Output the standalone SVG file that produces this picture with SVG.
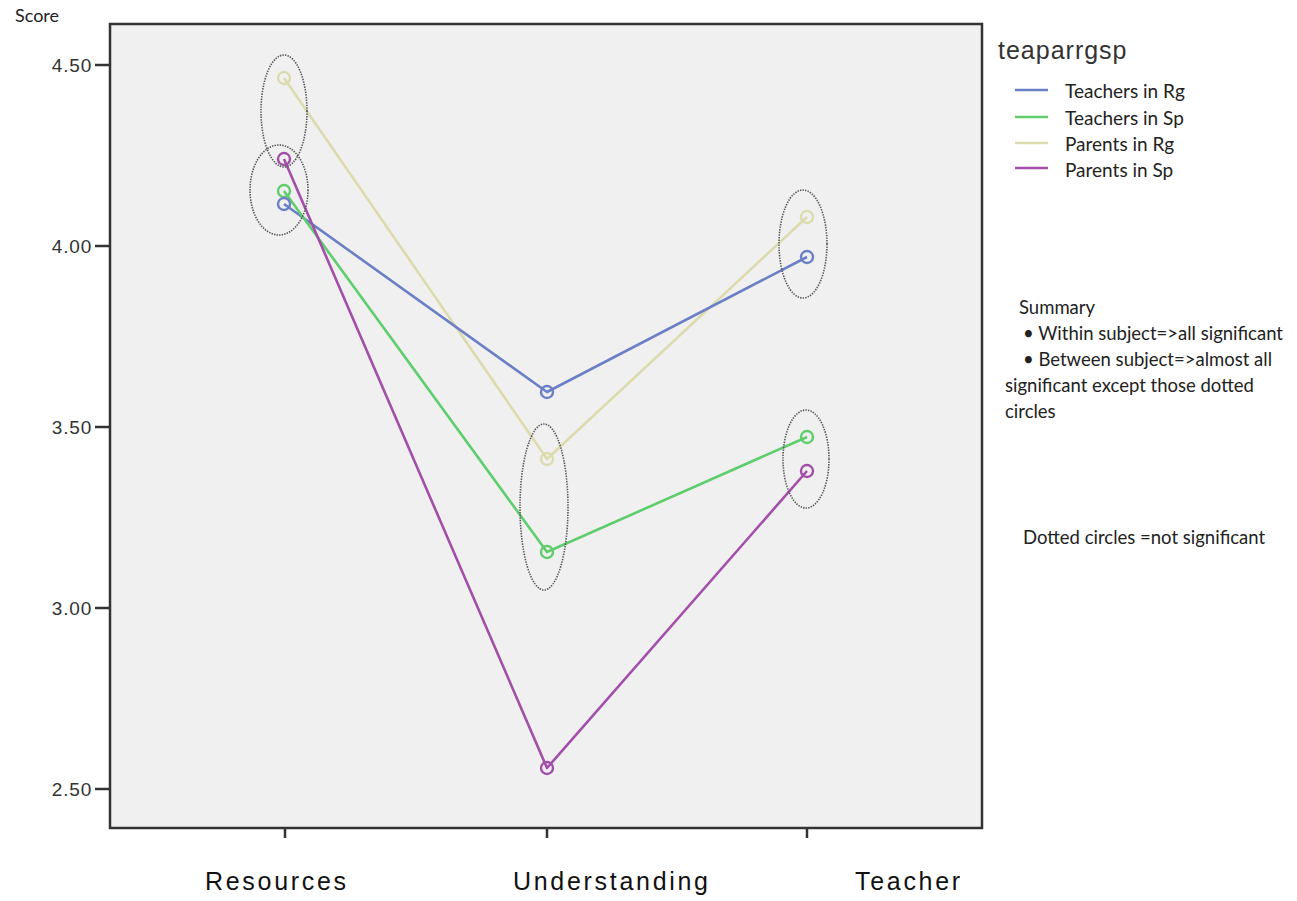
<svg xmlns="http://www.w3.org/2000/svg" width="1297" height="901" viewBox="0 0 1297 901">
<style>
.ax{font-family:"Liberation Sans",Arial,sans-serif;font-size:19px;fill:#333;text-anchor:end;letter-spacing:0.8px}
.cat{font-family:"Liberation Sans",Arial,sans-serif;font-size:25px;fill:#111;letter-spacing:2.7px}
.hum{font-family:Lato,"Open Sans",sans-serif;fill:#222}
.lg{font-size:19px}
.sm{font-size:18.5px}
.dot{fill:none;stroke:#555;stroke-width:1.6;stroke-dasharray:1.4 1.2}
.ser{fill:none;stroke-width:2.6;stroke-linejoin:round}
.mk{fill:none;stroke-width:2.4}
.trg{stroke:#6b7fc6}
.tsp{stroke:#5fcd6c}
.prg{stroke:#dcdbae}
.psp{stroke:#a24fa9}
</style>
<rect width="1297" height="901" fill="#fff"/>
<g id="plot">
<rect x="110" y="24" width="872" height="804" fill="#f0f0f0" stroke="#333" stroke-width="2.5"/>
<g stroke="#333" stroke-width="2.5">
<line x1="95" y1="65" x2="110" y2="65"/>
<line x1="95" y1="246" x2="110" y2="246"/>
<line x1="95" y1="427" x2="110" y2="427"/>
<line x1="95" y1="608" x2="110" y2="608"/>
<line x1="95" y1="789" x2="110" y2="789"/>
<line x1="285" y1="828" x2="285" y2="838"/>
<line x1="547" y1="828" x2="547" y2="838"/>
<line x1="807" y1="828" x2="807" y2="838"/>
</g>
<text class="ax" x="92" y="72">4.50</text>
<text class="ax" x="92" y="253">4.00</text>
<text class="ax" x="92" y="434">3.50</text>
<text class="ax" x="92" y="615">3.00</text>
<text class="ax" x="92" y="796">2.50</text>
<text class="hum" x="15" y="22" font-size="18">Score</text>
<text class="cat" x="205" y="890">Resources</text>
<text class="cat" x="513" y="890">Understanding</text>
<text class="cat" x="855" y="890">Teacher</text>
</g>
<g id="connectors">
<polyline class="ser prg" points="284,78 547,459 807,217"/>
<polyline class="ser trg" points="284,204 547,392 807,257"/>
<polyline class="ser tsp" points="284,191 547,552 807,437"/>
<polyline class="ser psp" points="284,159 547,768 807,471"/>
</g>
<g id="markers">
<circle class="mk prg" cx="284" cy="78" r="6"/>
<circle class="mk psp" cx="284" cy="159" r="6"/>
<circle class="mk tsp" cx="284" cy="191" r="6"/>
<circle class="mk trg" cx="284" cy="204" r="6"/>
<circle class="mk trg" cx="547" cy="392" r="6"/>
<circle class="mk prg" cx="547" cy="459" r="6"/>
<circle class="mk tsp" cx="547" cy="552" r="6"/>
<circle class="mk psp" cx="547" cy="768" r="6"/>
<circle class="mk prg" cx="807" cy="217" r="6"/>
<circle class="mk trg" cx="807" cy="257" r="6"/>
<circle class="mk tsp" cx="807" cy="437" r="6"/>
<circle class="mk psp" cx="807" cy="471" r="6"/>
</g>
<g id="dotted-circles">
<ellipse class="dot" cx="284" cy="111" rx="23" ry="56"/>
<ellipse class="dot" cx="279" cy="190" rx="29" ry="45"/>
<ellipse class="dot" cx="544" cy="507" rx="24" ry="83"/>
<ellipse class="dot" cx="803" cy="244" rx="24" ry="54"/>
<ellipse class="dot" cx="806" cy="459" rx="23" ry="49"/>
</g>
<g id="legend">
<text x="998" y="59" font-family="Liberation Sans,Arial,sans-serif" font-size="25" fill="#333" letter-spacing="1">teaparrgsp</text>
<line class="trg" x1="1015" y1="90" x2="1048" y2="90" stroke-width="2.5"/>
<line class="tsp" x1="1015" y1="117" x2="1048" y2="117" stroke-width="2.5"/>
<line class="prg" x1="1015" y1="143" x2="1048" y2="143" stroke-width="2.5"/>
<line class="psp" x1="1015" y1="168" x2="1048" y2="168" stroke-width="2.5"/>
<text class="hum lg" x="1065" y="98">Teachers in Rg</text>
<text class="hum lg" x="1065" y="125">Teachers in Sp</text>
<text class="hum lg" x="1065" y="151">Parents in Rg</text>
<text class="hum lg" x="1065" y="177">Parents in Sp</text>
</g>
<g id="summary">
<text class="hum sm" x="1019" y="314">Summary</text>
<text class="hum sm" x="1023" y="340">• Within subject=&gt;all significant</text>
<text class="hum sm" x="1023" y="366">• Between subject=&gt;almost all</text>
<text class="hum sm" x="1005" y="392">significant except those dotted</text>
<text class="hum sm" x="1005" y="418">circles</text>
<text class="hum sm" x="1023" y="544">Dotted circles =not significant</text>
</g>
</svg>
